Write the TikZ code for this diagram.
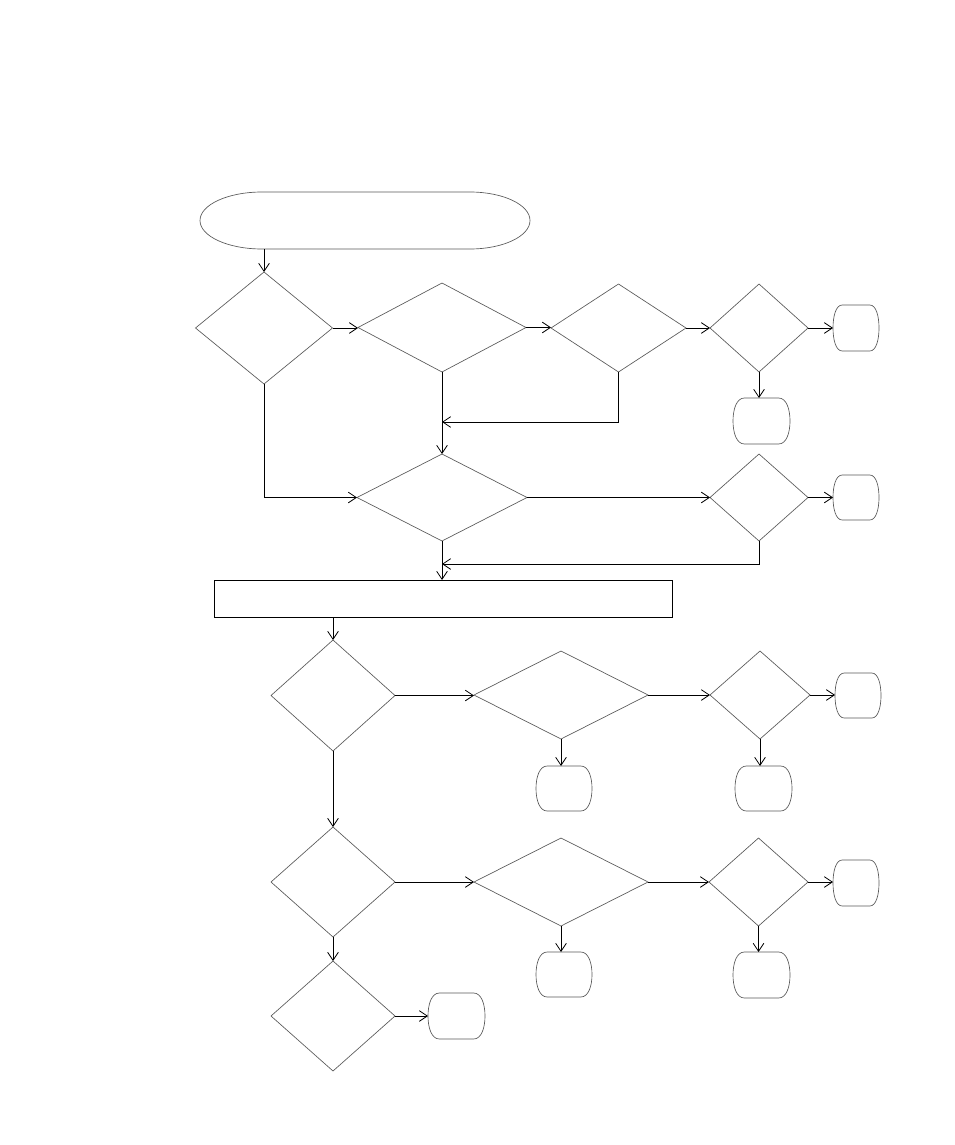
\documentclass[tikz,border=0pt]{standalone}
\usetikzlibrary{shapes.geometric,arrows.meta,calc}
\tikzset{
  shapeline/.style={draw=black!65, line width=0.5pt},
  dia/.style 2 args={diamond, shapeline, inner sep=0pt, outer sep=0pt,
     minimum width=#1*0.75pt, minimum height=#2*0.75pt},
  anchorbox/.style 2 args={rectangle, draw=none, inner sep=0pt, outer sep=0pt,
     minimum width=#1*0.75pt, minimum height=#2*0.75pt},
  procbox/.style 2 args={rectangle, draw=black, line width=0.6pt, inner sep=0pt, outer sep=0pt,
     minimum width=#1*0.75pt, minimum height=#2*0.75pt},
  conn/.style={draw=black, line width=0.6pt, -{Straight Barb[length=6pt,width=8pt]}},
}
% terminal: name, x1, y1, x2, y2 (pixel coordinates)
\newcommand\termbox[5]{%
  \pgfmathsetmacro\trmA{0.2*(#4-#2)}%
  \pgfmathsetmacro\trmH{#5-#3}%
  \pgfmathsetmacro\trmW{#4-#2}%
  \node[anchorbox={\trmW}{\trmH}] (#1) at ({(#2+#4)/2},{(#3+#5)/2}) {};
  \draw[shapeline] ({#2+\trmA},#3) -- ({#4-\trmA},#3)
    .. controls ({#4-0.3*\trmA},#3) and (#4,{#3+0.25*\trmH}) .. (#4,{(#3+#5)/2})
    .. controls (#4,{#5-0.25*\trmH}) and ({#4-0.3*\trmA},#5) .. ({#4-\trmA},#5)
    -- ({#2+\trmA},#5)
    .. controls ({#2+0.3*\trmA},#5) and (#2,{#5-0.25*\trmH}) .. (#2,{(#3+#5)/2})
    .. controls (#2,{#3+0.25*\trmH}) and ({#2+0.3*\trmA},#3) .. cycle;
}
\begin{document}
\begin{tikzpicture}[x=0.75pt,y=-0.75pt]
\useasboundingbox (0,0) rectangle (954,1145);

% start terminal
\node[anchorbox={330}{57}] (T0) at (365,220.5) {};
\draw[shapeline] (262,192) -- (470,192) arc(-90:90:60 and 28.5) -- (262,249) arc(90:270:62 and 28.5) -- cycle;

% decisions
\node[dia={137}{112}] (D1) at (264,328) {};
\node[dia={168}{89}]  (D2) at (442,327.5) {};
\node[dia={135}{88}]  (D3) at (618.5,328) {};
\node[dia={98}{88}]   (D4) at (759,328) {};
\node[dia={170}{87}]  (D5) at (442,497.5) {};
\node[dia={98}{87}]   (D6) at (759,497.5) {};
\node[dia={124}{111}] (D7) at (333,695.5) {};
\node[dia={174}{88}]  (D8) at (561,695) {};
\node[dia={100}{88}]  (D9) at (760,695) {};
\node[dia={124}{110}] (D10) at (333,882) {};
\node[dia={174}{88}]  (D11) at (561,882) {};
\node[dia={99}{88}]   (D12) at (758.5,882) {};
\node[dia={124}{110}] (D13) at (333,1016) {};

% process box
\node[procbox={458}{37}] (R) at (443,598.5) {};

% end terminals
\termbox{T1}{833}{305}{879}{351}
\termbox{T2}{733}{398}{790}{444}
\termbox{T3}{833}{475}{879}{520}
\termbox{T4}{835}{673}{881}{718}
\termbox{T5}{536}{766}{592}{811}
\termbox{T6}{735}{766}{792}{811}
\termbox{T7}{833}{860}{879}{906}
\termbox{T8}{536}{952}{592}{997}
\termbox{T9}{733}{952}{790}{998}
\termbox{T10}{428}{993}{485}{1039}

\coordinate (j1) at (442,422);
\coordinate (j2) at (442,564);

% connectors
\draw[conn] (T0.south -| D1.north) -- (D1.north);
\draw[conn] (D1.east) -- (D1.east -| D2.west);
\draw[conn] (D2.east) -- (D2.east -| D3.west);
\draw[conn] (D3.east) -- (D3.east -| D4.west);
\draw[conn] (D4.east) -- (D4.east -| T1.west);
\draw[conn] (D4.south) -- (D4.south |- T2.north);
\draw[conn] (D2.south) -- (D5.north);
\draw[conn] (D3.south) |- (j1);
\draw[conn] (D1.south) |- (D5.west);
\draw[conn] (D5.east) -- (D5.east -| D6.west);
\draw[conn] (D6.east) -- (D6.east -| T3.west);
\draw[conn] (D6.south) |- (j2);
\draw[conn] (D5.south) -- (D5.south |- R.north);
\draw[conn] (D7.north |- R.south) -- (D7.north);
\draw[conn] (D7.east) -- (D7.east -| D8.west);
\draw[conn] (D8.east) -- (D8.east -| D9.west);
\draw[conn] (D9.east) -- (D9.east -| T4.west);
\draw[conn] (D8.south) -- (D8.south |- T5.north);
\draw[conn] (D9.south) -- (D9.south |- T6.north);
\draw[conn] (D7.south) -- (D10.north);
\draw[conn] (D10.east) -- (D10.east -| D11.west);
\draw[conn] (D11.east) -- (D11.east -| D12.west);
\draw[conn] (D12.east) -- (D12.east -| T7.west);
\draw[conn] (D11.south) -- (D11.south |- T8.north);
\draw[conn] (D12.south) -- (D12.south |- T9.north);
\draw[conn] (D10.south) -- (D13.north);
\draw[conn] (D13.east) -- (D13.east -| T10.west);
\end{tikzpicture}
\end{document}
